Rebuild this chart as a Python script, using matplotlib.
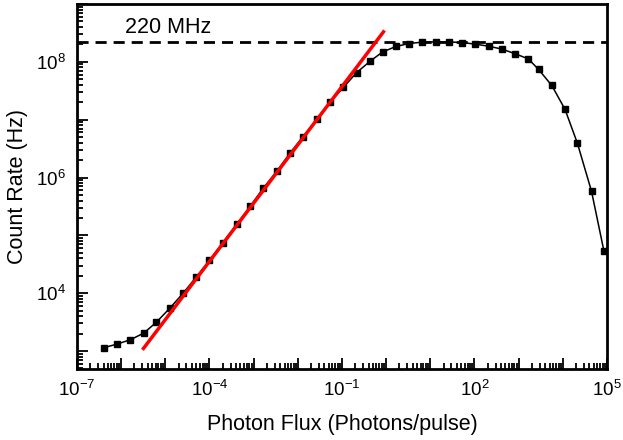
import numpy as np
import matplotlib
matplotlib.use("Agg")
import matplotlib.pyplot as plt

plt.rcParams['font.family'] = ['Liberation Sans', 'DejaVu Sans']
plt.rcParams['mathtext.fontset'] = 'custom'
plt.rcParams['mathtext.rm'] = 'Liberation Sans'
plt.rcParams['mathtext.it'] = 'Liberation Sans:italic'
plt.rcParams['mathtext.bf'] = 'Liberation Sans:bold'

# measured count rate vs photon flux
flux = [4.0e-7, 8.1e-7, 1.62e-6, 3.24e-6, 6.3e-6, 1.26e-5, 2.5e-5, 5.0e-5,
        1.0e-4, 2.0e-4, 4.2e-4, 8.3e-4, 1.66e-3, 3.4e-3, 6.6e-3, 1.32e-2,
        2.7e-2, 5.4e-2, 0.107, 0.214, 0.43, 0.83, 1.66, 3.3, 6.6, 13.2,
        26.3, 52.5, 105, 209, 417, 832, 1660, 2820, 5620, 11200, 21400,
        44700, 85100]
rate = [1.14e3, 1.32e3, 1.57e3, 2.04e3, 3.16e3, 5.5e3, 9.9e3, 1.9e4,
        3.7e4, 7.4e4, 1.58e5, 3.16e5, 6.6e5, 1.30e6, 2.63e6, 5.1e6,
        1.02e7, 2.0e7, 3.6e7, 6.5e7, 1.02e8, 1.48e8, 1.84e8, 2.07e8,
        2.19e8, 2.21e8, 2.21e8, 2.15e8, 2.02e8, 1.86e8, 1.66e8, 1.38e8,
        1.12e8, 7.4e7, 3.9e7, 1.51e7, 3.9e6, 5.75e5, 5.4e4]

# linear fit (slope 1 on log-log)
fit_x = [3.2e-6, 0.87]
fit_y = [1.11e3, 3.3e8]

sat_rate = 2.2e8
sat_label = "220 MHz"

x_decades = [-7, -6, -5, -4, -3, -2, -1, 0, 1, 2, 3, 4, 5]
x_labelled = [-7, -4, -1, 2, 5]
y_decades = [3, 4, 5, 6, 7, 8, 9]
y_labelled = [4, 6, 8]

fig = plt.figure(figsize=(6.23, 4.40), dpi=100)
ax = fig.add_axes([0.1236, 0.1614, 0.8507, 0.8296])

ax.axhline(sat_rate, color='k', lw=2, ls=(0, (4, 2.5)), zorder=1)
ax.plot(flux, rate, 'k-', lw=1.1, marker='s', ms=3.8, zorder=3)
ax.plot(fit_x, fit_y, color='#ff0000', lw=2.5, zorder=4)

ax.set_xscale('log')
ax.set_yscale('log')
ax.set_xlim(1e-7, 1e5)
ax.set_ylim(10 ** 2.69, 10 ** 8.98)

ax.set_xticks([10.0 ** d for d in x_decades])
ax.set_xticklabels([r'$10^{%d}$' % d if d in x_labelled else '' for d in x_decades])
ax.set_yticks([10.0 ** d for d in y_decades])
ax.set_yticklabels([r'$10^{%d}$' % d if d in y_labelled else '' for d in y_decades])
ax.xaxis.set_minor_locator(matplotlib.ticker.LogLocator(base=10, subs=np.arange(2, 10), numticks=30))
ax.yaxis.set_minor_locator(matplotlib.ticker.LogLocator(base=10, subs=np.arange(2, 10), numticks=30))
ax.xaxis.set_minor_formatter(matplotlib.ticker.NullFormatter())
ax.yaxis.set_minor_formatter(matplotlib.ticker.NullFormatter())

ax.tick_params(which='both', direction='in', top=False, right=False, labelsize=13.5, width=1.3)
ax.tick_params(which='major', length=8, pad=8)
ax.tick_params(which='minor', length=4)
for sp in ax.spines.values():
    sp.set_linewidth(2)

ax.text(1.2e-6, 3.2e8, sat_label, fontsize=15.5, va='baseline', ha='left')
ax.set_xlabel("Photon Flux (Photons/pulse)", fontsize=15.5, labelpad=10)
ax.set_ylabel("Count Rate (Hz)", fontsize=15.5, labelpad=6)

fig.savefig("out.png", dpi=100)
